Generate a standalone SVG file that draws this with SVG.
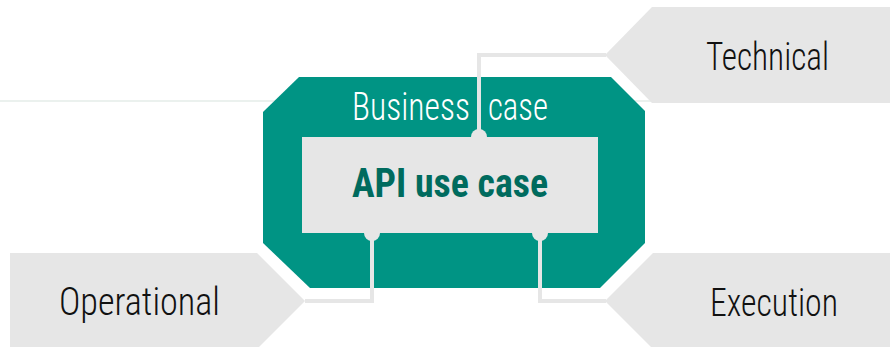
<svg xmlns="http://www.w3.org/2000/svg" width="890" height="347" viewBox="0 0 890 347">
<style>
.tab{fill:#e6e6e6}
.conn{fill:none;stroke:#e6e6e6;stroke-width:4}
.lbl{font-family:"Roboto Condensed",Roboto,"Liberation Sans",sans-serif;font-weight:300;font-size:38px;fill:#111}
.biz{font-family:"Roboto Condensed",Roboto,"Liberation Sans",sans-serif;font-weight:300;font-size:38px;fill:#fff}
.api{font-family:"Roboto Condensed",Roboto,"Liberation Sans",sans-serif;font-weight:700;font-size:40px;fill:#006b5e}
</style>
<rect width="890" height="347" fill="#fff"/>
<line x1="0" y1="101" x2="890" y2="101" stroke="#e4ece9" stroke-width="1.5"/>
<g id="technical">
<polygon class="tab" points="652,7 890,7 890,103 652,103 605,55"/>
<text class="lbl" x="706" y="70" textLength="123" lengthAdjust="spacingAndGlyphs">Technical</text>
</g>
<g id="operational">
<polygon class="tab" points="10,253 257,253 305,301 257,349 10,349"/>
<text class="lbl" x="59" y="315" textLength="161" lengthAdjust="spacingAndGlyphs">Operational</text>
</g>
<g id="execution">
<polygon class="tab" points="653,253 890,253 890,349 653,349 605,301"/>
<text class="lbl" x="710" y="316" textLength="128" lengthAdjust="spacingAndGlyphs">Execution</text>
</g>
<g id="business-case">
<polygon fill="#009484" points="299,77 611,77 645,111 645,243 600,288 310,288 263,243 263,112"/>
<text class="biz" y="120"><tspan x="352" textLength="118" lengthAdjust="spacingAndGlyphs">Business</tspan> <tspan x="488" textLength="60" lengthAdjust="spacingAndGlyphs">case</tspan></text>
</g>
<g id="connectors">
<polyline class="conn" points="479,137 479,55 606,55"/>
<polyline class="conn" points="372,233 372,301 305,301"/>
<polyline class="conn" points="540,233 540,301 606,301"/>
<circle cx="479" cy="137" r="8" fill="#e6e6e6"/>
<circle cx="372" cy="233" r="8" fill="#e6e6e6"/>
<circle cx="540" cy="233" r="8" fill="#e6e6e6"/>
</g>
<g id="api-use-case">
<rect x="302" y="137" width="296" height="96" fill="#e6e6e6"/>
<text class="api" x="352" y="197" textLength="196" lengthAdjust="spacingAndGlyphs">API use case</text>
</g>
</svg>
